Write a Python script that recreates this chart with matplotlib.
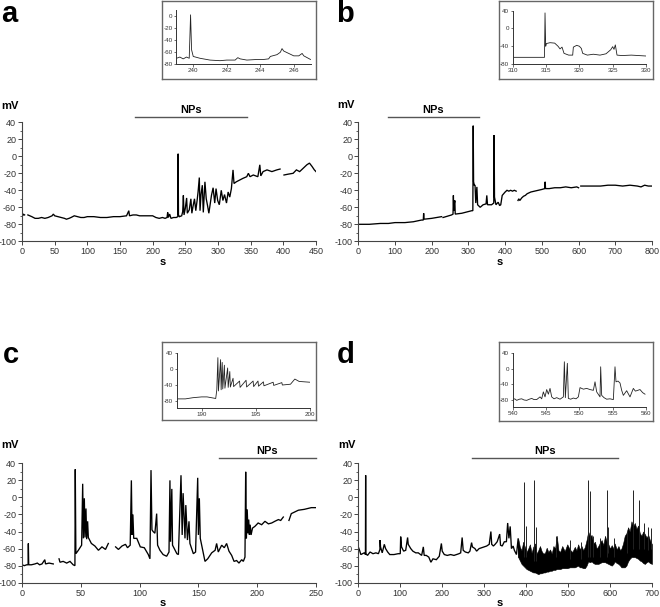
import numpy as np
import matplotlib
matplotlib.use("Agg")
import matplotlib.pyplot as plt

plt.rcParams['font.family'] = ['Liberation Sans', 'DejaVu Sans']
plt.rcParams['axes.unicode_minus'] = False

nan = np.nan

# ---- panel a: (time s, membrane potential mV) ----
trace_a = [(0, -68), (1, -70), (2, -68), (4, -69), (5, nan), (9, -69), (12, -70), (15, -71), (20, -73),
           (25, -73), (30, -72), (35, -73), (40, -72), (46, -70), (48, -68), (50, -70), (55, -71),
           (60, -72), (65, -73), (68, -74), (72, -73), (75, -72), (80, -70), (85, -71), (90, -72),
           (95, -72), (100, -71), (110, -71), (120, -72), (130, -72), (140, -71), (150, -71),
           (160, -70), (163.5, -64), (164.5, -70), (170, -69), (175, -69), (180, -70), (190, -70),
           (200, -70), (205, -72), (210, -73), (215, -72), (219, -73), (222, -72), (223, -66),
           (224, -72), (226, -68), (228, -73), (232, -72), (236, -72), (238.5, -71), (239, 3),
           (239.5, -69), (241, -71), (244.4, -70), (246, -65), (247, -46), (248, -69), (250, -61),
           (252, -49), (253, -67), (256, -63), (258.5, -50), (260, -67), (262, -58), (264, -50),
           (266, -64), (268, -52), (269.5, -42), (271.4, -25), (272.5, -64), (274, -45), (276, -34),
           (277.5, -66), (280, -30), (282, -50), (284, -58), (286, -67), (290, -46), (292.5, -37),
           (295, -55), (297, -38), (299.5, -52), (302, -57), (305, -40), (307.5, -52), (310, -45),
           (313, -55), (315.5, -42), (318, -48), (320.5, -38), (323, -16), (324.5, -32), (328, -30),
           (333, -28), (338, -26), (344, -24), (346.5, -20), (349, -24), (354, -22), (361, -24),
           (364, -10), (365.5, -23), (369, -18), (375, -16), (382.5, -18), (390, -16), (395, -15),
           (396, nan), (401, -22), (407.5, -21), (415, -20), (420, -16), (425, -18), (430.5, -14),
           (436, -10), (440, -8), (444, -12), (447.5, -16), (450, -18)]
inset_a = [(239, -70), (239.2, -68), (239.4, -71), (239.6, -68), (239.76, -70), (239.84, 2),
           (239.9, -56), (240, -67), (240.4, -70), (241, -73), (241.6, -74), (242, -73), (242.5, -73),
           (242.66, -69), (242.8, -71), (243.2, -73), (243.8, -72), (244.2, -72), (244.5, -71),
           (244.6, -67), (245, -64), (245.2, -60), (245.3, -54), (245.4, -58), (245.7, -62),
           (246, -66), (246.3, -66), (246.5, -62), (246.6, -66), (246.8, -69), (247, -72)]

# ---- panel b ----
trace_b = [(0, -80), (30, -80), (60, -79), (82, -79), (100, -78), (127, -78), (150, -77), (172, -75),
           (177, -75), (178, -67), (179, -74), (200, -73), (227, -71), (229, nan), (231, -72),
           (254, -69), (258, -68), (259, -46), (260, -64), (261, -57), (263, -52), (264, -68),
           (282, -67), (300, -65), (309, -64), (312, -64), (313, 36), (314, -30), (316, -34),
           (318, -34), (320, -55), (323, -36), (325, -57), (332, -60), (340, -57), (348, -56),
           (350, -46), (352, -57), (363, -57), (369, -55), (370, 25), (371, -48), (375, -57),
           (381, -54), (385, -58), (388, -57), (392, -46), (396, -44), (400, -42), (405, -40),
           (410, -41), (415, -40), (420, -41), (425, -40), (430, -41), (432, nan), (435, -52),
           (437, -50), (440, -52), (445, -49), (450, -47), (455, -46), (460, -44), (470, -42),
           (480, -41), (490, -40), (500, -39), (508, -38), (509, -30), (510, -38), (520, -38),
           (535, -37), (550, -37), (565, -36), (580, -37), (595, -36), (600, -37), (603, nan),
           (606, -35), (620, -35), (640, -35), (660, -35), (680, -34), (700, -34), (720, -35),
           (740, -34), (760, -35), (770, -36), (780, -34), (790, -35), (800, -35)]
inset_b = [(310, -65), (314.77, -65), (314.85, 35), (314.95, -40), (315.05, -34), (315.6, -32),
           (316.3, -33), (316.8, -40), (317.1, -46), (317.4, -42), (317.7, -56), (318.4, -60),
           (319, -60), (319.1, -42), (319.6, -38), (320, -40), (320.3, -45), (320.5, -56),
           (321.2, -60), (322.1, -58), (323.1, -60), (324, -57), (324.7, -48), (325, -41),
           (325.2, -47), (325.4, -37), (325.65, -60), (326.4, -61), (327.8, -60), (330, -62)]

# ---- panel c ----
trace_c = [(0, -79), (2, -80), (4, -79), (5.2, -79), (5.4, -54), (5.7, -79), (8, -79), (11, -78),
           (13, -77), (15, -79), (17, -78), (19.4, -73), (20, -78), (23, -77), (26.6, -78), (27, nan),
           (31.5, -72), (32.3, -76), (35, -75), (38, -77), (40.8, -75), (43.5, -79), (45, -80),
           (45.3, 33), (45.8, -66), (47.9, -62), (50.7, -56), (51.6, 16), (52.2, -48), (53, -1),
           (53.6, -47), (54.4, -13), (55, -49), (55.8, -28), (56.4, -47), (59, -54), (62, -57),
           (65, -62), (68, -58), (71, -61), (73.4, -54), (74, nan), (79.6, -58), (82, -61), (85, -57),
           (88, -55), (89.7, -59), (92, -56), (93, 20), (93.6, -44), (94.3, -20), (95, -48),
           (97.6, -48), (100.6, -58), (104, -59), (107.4, -67), (108.8, -72), (109.7, 32),
           (110.5, -38), (111.5, -40), (113, -42), (114.5, -19), (115.3, -56), (117.3, -62),
           (120, -67), (123, -69), (125, -64), (125.8, 20), (126.3, -52), (127.4, 10), (128, -56),
           (131.7, -66), (133, -67), (135.2, 26), (136.2, -44), (137, 5), (138.6, -48), (139.3, -9),
           (140.7, -50), (142, -28), (142.8, -54), (145.7, -66), (147.6, -64), (149.4, 23),
           (150, -44), (150.8, -1), (151.6, -48), (152.8, -56), (155.6, -75), (157.9, -72),
           (159.9, -68), (161.3, -65), (164.2, -62), (165.5, -54), (166.9, -64), (169.8, -56),
           (172, -59), (174, -54), (176, -63), (178.3, -68), (180.3, -75), (182.5, -74),
           (184.5, -77), (186.8, -73), (188.2, -75), (189.6, -70), (190.2, 30), (190.8, -48),
           (191.5, -14), (192.2, -42), (192.8, -26), (193.4, -44), (194, -32), (194.8, -44),
           (196, -36), (198, -34), (200.8, -30), (203.8, -32), (206.6, -28), (209.5, -31),
           (212.3, -30), (215, -28), (218, -26), (220, -27), (222.2, -23), (223, nan), (227, -27),
           (229, -19), (235, -15), (240, -14), (246, -12), (250, -12)]
inset_c = [(187.7, -75), (188.5, -75), (189.2, -72), (190, -70), (190.5, -70), (191.1, -73),
           (191.3, -74), (191.4, -52), (191.5, 29), (191.55, -55), (191.75, 24), (191.8, -52),
           (191.9, 17), (191.95, -50), (192.1, 10), (192.15, -48), (192.4, 3), (192.45, -46),
           (192.6, -6), (192.65, -45), (192.9, -23), (192.95, -44), (193.5, -30), (193.55, -46),
           (194.1, -28), (194.15, -45), (194.75, -30), (194.8, -44), (195.2, -30), (195.25, -43),
           (195.7, -32), (195.75, -42), (196.6, -33), (196.65, -41), (197.4, -34), (197.45, -40),
           (198.2, -38), (198.6, -25), (199, -31), (199.5, -32), (200, -33)]

# ---- panel d ----
trace_d = [(0, -58), (3, -62), (6, -67), (10, -66), (14, -65), (17, -67), (17.5, 26), (18, -66),
           (22, -68), (28, -64), (35, -66), (42, -65), (48, -66), (51.5, -61), (52, -50), (53, -58),
           (57, -65), (62, -55), (65, -60), (70, -64), (75, -67), (85, -67), (95, -66), (100, -66),
           (101, -46), (103, -58), (108, -63), (113, -62), (117.5, -47), (119, -55), (125, -60),
           (130, -63), (137, -65), (143, -65), (151, -68), (155, -58), (157, -68), (162, -68),
           (168, -70), (173, -76), (178, -72), (186, -73), (193, -69), (198, -54), (200, -63),
           (205, -67), (212, -68), (220, -67), (228, -68), (234, -67), (240, -66), (244, -65),
           (247.5, -47), (250, -62), (255, -64), (262, -65), (266, -63), (270, -53), (272, -58),
           (278, -60), (282, -63), (288, -60), (294, -59), (300, -58), (306, -57), (312, -55),
           (316, -40), (318, -55), (322, -57), (326, -55), (331, -52), (337, -43), (339, -56),
           (343, -57), (348, -52), (353, -52), (356, -30), (359, -48), (362, -34), (365, -60),
           (369, -57), (372, -62), (377, -67), (381, -48), (383, -70)]
band_t = [381, 385, 389, 393, 397, 401, 405, 409, 413, 417, 421, 425, 429, 433, 437, 441, 445, 449,
          453, 457, 461, 465, 469, 473, 477, 481, 486, 492, 498, 504, 510, 516, 520, 524, 528, 532,
          536, 540, 544, 548, 552, 556, 560, 564, 568, 572, 576, 580, 584, 588, 592, 596, 600, 604,
          608, 611, 616, 620, 624, 627, 631, 635, 639, 643, 647, 651, 655, 659, 663, 667, 671, 675,
          679, 683, 687, 691, 695, 700]
band_hi = [-48, -58, -62, -52, -58, -64, -60, -55, -65, -58, -54, -66, -62, -57, -63, -66, -65, -59,
           -64, -61, -66, -57, -60, -45, -62, -64, -57, -63, -55, -61, -64, -58, -62, -55, -61, -57,
           -62, -58, -50, -40, -46, -44, -54, -52, -60, -57, -53, -50, -56, -45, -52, -55, -60, -56,
           -60, -54, -61, -57, -62, -60, -54, -45, -42, -35, -40, -28, -34, -30, -37, -33, -42, -45,
           -40, -43, -47, -44, -50, -55]
band_lo = [-70, -74, -78, -80, -82, -84, -85, -86, -87, -88, -88, -89, -90, -89, -89, -88, -88, -87,
           -87, -86, -86, -85, -85, -84, -84, -84, -83, -83, -83, -82, -82, -82, -81, -80, -82, -82,
           -83, -83, -80, -75, -76, -75, -77, -78, -78, -78, -77, -76, -76, -76, -77, -78, -79, -80,
           -78, -75, -77, -78, -80, -82, -82, -82, -80, -75, -72, -70, -70, -70, -71, -72, -74, -75,
           -77, -78, -76, -75, -77, -78]
# spikes riding on the noisy band: (time s, base mV, peak mV)
spikes_d = [(395.5, -70, 18), (399.5, -70, -34), (418.6, -75, 21), (423, -75, -35),
            (472, -70, -45), (505, -72, -50), (530, -72, -52), (548, -70, 20), (553, -70, 8),
            (560, -70, -45), (575, -70, -48), (592, -70, 9), (594, -65, -35), (610, -70, -48),
            (640, -65, -40), (655, -60, 9), (668, -60, -3), (680, -60, -30), (690, -62, -35),
            (698, -60, -36)]
inset_d = [(540, -80), (540.3, -78), (540.6, -82), (541, -79), (541.35, -78), (541.7, -81),
           (542.1, -82), (542.5, -79), (542.85, -77), (543.2, -80), (543.6, -80), (544.1, -73),
           (544.35, -78), (544.6, -60), (544.85, -73), (545.1, -54), (545.35, -66), (545.6, -51),
           (545.85, -73), (546.2, -78), (546.6, -75), (547.1, -79), (547.6, -73), (547.75, 18),
           (547.9, -75), (548.2, 14), (548.35, -77), (548.7, -79), (549.1, -76), (549.5, -78),
           (549.85, -73), (550.1, -49), (550.6, -53), (551.1, -51), (551.6, -54), (552.1, -56),
           (552.35, -34), (552.6, -60), (553.1, -73), (553.2, 5), (553.35, -69), (553.7, -75),
           (554.1, -79), (554.6, -78), (555.1, -80), (555.35, 5), (555.5, -34), (555.8, -32),
           (556.1, -37), (556.35, -56), (556.6, -69), (557.1, -57), (557.6, -73), (558.1, -51),
           (558.4, -58), (558.6, -57), (559.1, -54), (559.5, -62), (559.85, -66)]

# NPs application windows (s)
nps_a = (173, 345)
nps_b = (80, 330)
nps_c = (167.5, 250)
nps_d = (270, 620)

W, H = 660, 607
fig = plt.figure(figsize=(W / 100, H / 100), dpi=100)


def fbox(x0, y0, x1, y1):
    # pixel box (top-left origin) -> figure rect
    return [x0 / W, 1 - y1 / H, (x1 - x0) / W, (y1 - y0) / H]


def xy(pairs):
    a = np.array(pairs, dtype=float)
    return a[:, 0], a[:, 1]


def main_axes(rect, xmax, xstep, nps, letter, letter_pos, mv_pos):
    ax = fig.add_axes(fbox(*rect))
    ax.set_xlim(0, xmax)
    ax.set_ylim(-100, 40)
    ax.set_xticks(np.arange(0, xmax + 1, xstep))
    ax.set_yticks(np.arange(-100, 41, 20))
    ax.set_yticks(np.arange(-100, 41, 10), minor=True)
    for s in ['top', 'right']:
        ax.spines[s].set_visible(False)
    for s in ['left', 'bottom']:
        ax.spines[s].set_color('#444444')
        ax.spines[s].set_linewidth(0.8)
    ax.tick_params(which='major', labelsize=6.5, length=3, width=0.7, color='#444444',
                   labelcolor='#333333', pad=1.2)
    ax.tick_params(which='minor', length=1.8, width=0.6, color='#444444')
    ax.set_xlabel('s', fontsize=8, fontweight='bold')
    ax.xaxis.set_label_coords(0.48, -0.13)
    ax.text(mv_pos[0], mv_pos[1], 'mV', transform=ax.transAxes, fontsize=8,
            fontweight='bold', va='baseline', ha='left')
    tr = ax.get_xaxis_transform()
    ax.plot(nps, [1.045, 1.045], color='#555555', lw=1.0, transform=tr, clip_on=False)
    ax.text(sum(nps) / 2, 1.075, 'NPs', transform=tr, ha='center', va='baseline',
            fontsize=8, fontweight='bold')
    fig.text(letter_pos[0] / W, 1 - letter_pos[1] / H, letter, fontsize=21,
             fontweight='bold', va='baseline', ha='left')
    return ax


def inset_axes(frame, rect, xlim, ylim, xticks, yticks):
    fax = fig.add_axes(fbox(*frame))
    fax.set_xticks([])
    fax.set_yticks([])
    fax.patch.set_alpha(0)
    for s in fax.spines.values():
        s.set_color('#666666')
        s.set_linewidth(1.0)
    ax = fig.add_axes(fbox(*rect))
    ax.set_xlim(*xlim)
    ax.set_ylim(*ylim)
    ax.set_xticks(xticks)
    ax.set_yticks(yticks)
    for s in ['top', 'right']:
        ax.spines[s].set_visible(False)
    for s in ['left', 'bottom']:
        ax.spines[s].set_color('#333333')
        ax.spines[s].set_linewidth(0.7)
    ax.tick_params(labelsize=4.5, length=1.8, width=0.5, pad=1, colors='#333333')
    ax.patch.set_alpha(0)
    return ax


line_kw = dict(color='black', lw=0.95, solid_joinstyle='miter')
thin_kw = dict(color='#222222', lw=0.6)

# panel a
ax = main_axes((22, 122.3, 316, 241.3), 450, 50, nps_a, 'a', (1.5, 21.7), (-0.069, 1.109))
ax.plot(*xy(trace_a), **line_kw)
ia = inset_axes((162.3, 1, 316, 79), (176.5, 10, 310.5, 64.3), (239, 247), (-80, 10),
                [240, 242, 244, 246], [0, -20, -40, -60, -80])
ia.plot(*xy(inset_a), **thin_kw)

# panel b
ax = main_axes((358.3, 122.3, 652, 241.3), 800, 100, nps_b, 'b', (336.5, 21.7), (-0.073, 1.116))
ax.plot(*xy(trace_b), **line_kw)
ib = inset_axes((499, 1, 653, 79), (512.7, 10.7, 646, 64), (310, 330), (-80, 40),
                [310, 315, 320, 325, 330], [40, 0, -40, -80])
ib.plot(*xy(inset_b), **thin_kw)

# panel c
ax = main_axes((22, 463.3, 316, 582.7), 250, 50, nps_c, 'c', (2.5, 363.3), (-0.069, 1.126))
ax.plot(*xy(trace_c), **line_kw)
ic = inset_axes((162.3, 341.7, 316, 420), (176.7, 353.3, 310, 408), (187.7, 200), (-98, 40),
                [190, 195, 200], [40, 0, -40, -80])
ic.plot(*xy(inset_c), **thin_kw)

# panel d
ax = main_axes((358.3, 463.3, 652, 582.7), 700, 100, nps_d, 'd', (336.5, 363.3), (-0.068, 1.126))
ax.plot(*xy(trace_d), **line_kw)
ax.fill_between(band_t, band_lo, band_hi, color='black', lw=0.4)
sp = np.array(spikes_d, dtype=float)
ax.vlines(sp[:, 0], sp[:, 1], sp[:, 2], color='#222222', lw=0.7)
idd = inset_axes((499, 342, 652.7, 420.7), (512.7, 353.3, 646, 407.3), (540, 560), (-100, 40),
                 [540, 545, 550, 555, 560], [40, 0, -40, -80])
idd.plot(*xy(inset_d), **thin_kw)

fig.savefig('out.png', dpi=100)
